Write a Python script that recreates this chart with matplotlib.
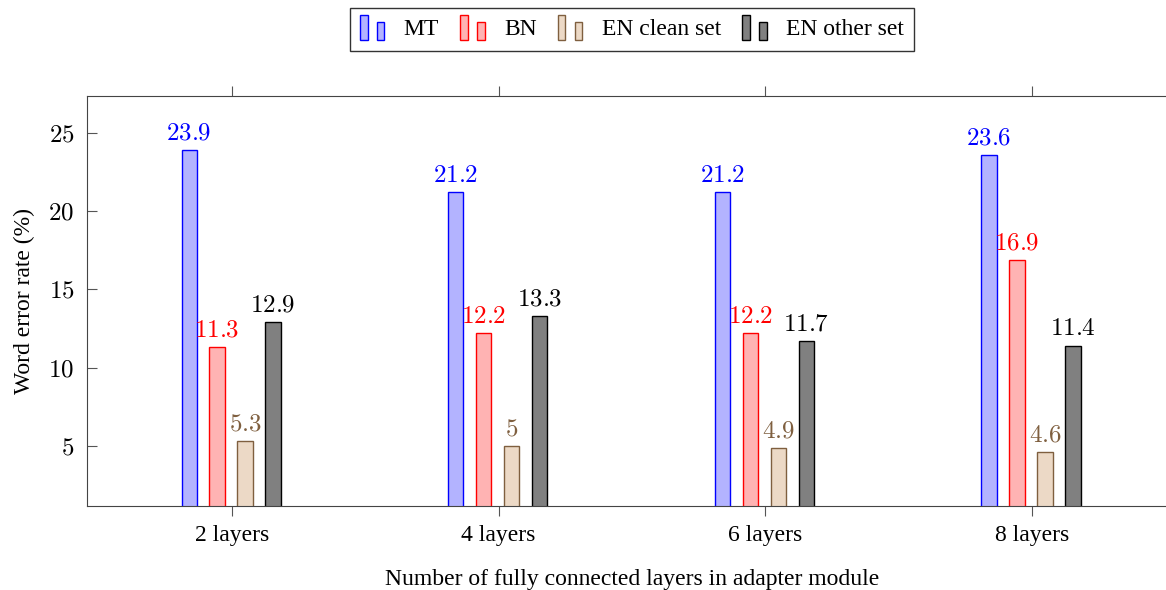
import numpy as np
import matplotlib.pyplot as plt
from matplotlib.patches import Rectangle
from matplotlib.legend_handler import HandlerBase

plt.rcParams['font.family'] = ['Liberation Serif', 'DejaVu Serif']
plt.rcParams['mathtext.fontset'] = 'cm'

categories = ['2 layers', '4 layers', '6 layers', '8 layers']
series_names = ['MT', 'BN', 'EN clean set', 'EN other set']
mt = [23.9, 21.2, 21.2, 23.6]
bn = [11.3, 12.2, 12.2, 16.9]
en_clean = [5.3, 5.0, 4.9, 4.6]
en_other = [12.9, 13.3, 11.7, 11.4]
labels_txt = [['23.9', '21.2', '21.2', '23.6'],
              ['11.3', '12.2', '12.2', '16.9'],
              ['5.3', '5', '4.9', '4.6'],
              ['12.9', '13.3', '11.7', '11.4']]

fills = [(0.7, 0.7, 1.0), (1.0, 0.7, 0.7), (0.925, 0.85, 0.775), (0.5, 0.5, 0.5)]
edges = ['blue', 'red', '#7f5f3f', 'black']
text_cols = ['blue', 'red', '#7f5f3f', 'black']


class BarPairHandler(HandlerBase):
    def create_artists(self, legend, orig_handle, xdescent, ydescent,
                       width, height, fontsize, trans):
        fc = orig_handle.get_facecolor()
        ec = orig_handle.get_edgecolor()
        w = width * 0.3
        y0 = -ydescent - height * 0.3
        r1 = Rectangle((-xdescent, y0), w, height * 1.55,
                       facecolor=fc, edgecolor=ec, lw=1.0, transform=trans)
        r2 = Rectangle((-xdescent + width * 0.68, y0), w, height * 1.1,
                       facecolor=fc, edgecolor=ec, lw=1.0, transform=trans)
        return [r1, r2]


fig = plt.figure(figsize=(11.66, 5.9), dpi=100)
# axes runs past the right edge of the picture, like the reference crop
ax = fig.add_axes([0.0746, 0.1424, 0.9348, 0.6949])

x = np.arange(len(categories))
data = [mt, bn, en_clean, en_other]
offsets = [-0.161, -0.056, 0.049, 0.154]
width = 0.057
handles = []
for vals, off, fc, ec, tc, txt, name in zip(data, offsets, fills, edges, text_cols, labels_txt, series_names):
    bars = ax.bar(x + off, vals, width, facecolor=fc, edgecolor=ec, lw=1.0, label=name)
    handles.append(bars[0])
    for xi, v, t in zip(x + off, vals, txt):
        ax.annotate('$' + t + '$', (xi, v), xytext=(0, 4), textcoords='offset points',
                    ha='center', va='bottom', color=tc, fontsize=18)

ax.set_xlim(-0.544, 3.544)
ax.set_ylim(1.17, 27.36)
ax.set_xticks(x)
ax.set_xticklabels(categories, fontsize=17)
ax.set_yticks([5, 10, 15, 20, 25])
ax.set_yticklabels(['$%d$' % v for v in [5, 10, 15, 20, 25]], fontsize=18)
ax.tick_params(axis='x', direction='out', length=7, width=0.8, top=True, bottom=True,
               pad=7, color='#555555')
ax.tick_params(axis='y', direction='in', length=7, width=0.8, left=True, right=False,
               pad=9, color='#555555')
for s in ax.spines.values():
    s.set_color('#444444')
ax.spines['right'].set_visible(False)
ax.set_ylabel('Word error rate (%)', fontsize=17, labelpad=10)
ax.set_xlabel('Number of fully connected layers in adapter module', fontsize=17, labelpad=16)

leg = fig.legend(handles, series_names, loc='upper center', bbox_to_anchor=(0.542, 0.986),
                 ncol=4, fontsize=17, frameon=True, fancybox=False, edgecolor='black',
                 handler_map={h: BarPairHandler() for h in handles},
                 handlelength=1.05, columnspacing=0.9, handletextpad=0.8, borderpad=0.45,
                 borderaxespad=0)
leg.get_frame().set_linewidth(1.0)

fig.savefig('out.png', dpi=100)
